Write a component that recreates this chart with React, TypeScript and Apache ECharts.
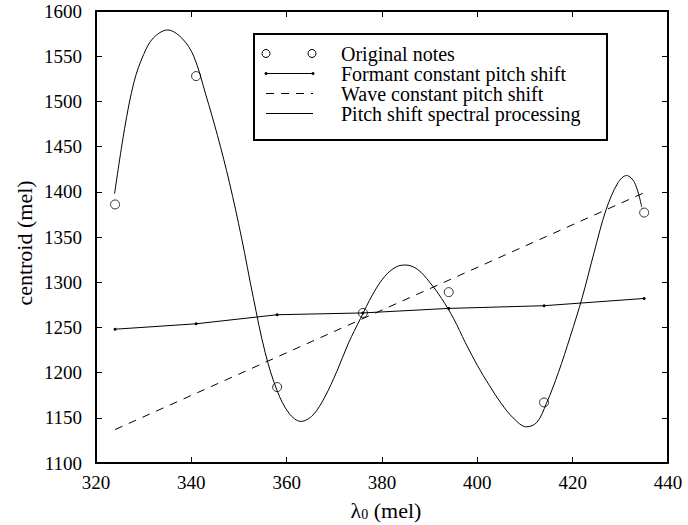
import React, { useEffect, useRef } from "react";
import * as echarts from "echarts";

const FONT = "Liberation Serif";

// Original notes (open circles)
const noteX = [324, 341, 358, 376, 394, 414, 435];
const noteY = [1386, 1528, 1184, 1266, 1289, 1167, 1377];

// Formant constant pitch shift
const formantY = [1248, 1254, 1264, 1266, 1271, 1274, 1282];

// Wave constant pitch shift (straight line)
const waveX = [324, 435];
const waveY = [1137, 1399];

// Pitch shift spectral processing (curve)
const specX = [
  323.9, 326, 328, 330, 332, 335, 338, 340.5, 343, 345.5, 348, 350.5, 353,
  355.5, 358, 360.5, 363, 365.5, 368, 370.5, 373, 375.5, 378, 380.5, 383, 385,
  387.5, 390, 392.5, 395, 397.5, 400, 402.5, 405, 407.5, 410.3, 412.5, 414.5,
  417, 419.5, 422, 424.5, 427, 429.5, 431.3, 433, 434.5,
];
const specY = [
  1398, 1470, 1522, 1552, 1570, 1579, 1570, 1550, 1508, 1462, 1410, 1350, 1283,
  1222, 1180, 1155, 1146, 1153, 1173, 1201, 1233, 1260, 1286, 1306, 1317, 1319,
  1314, 1300, 1282, 1260, 1233, 1208, 1186, 1166, 1150, 1140, 1145, 1166,
  1200, 1240, 1283, 1333, 1380, 1410, 1418, 1410, 1383,
];

const xTicks = { min: 320, max: 440, interval: 20 };
const yTicks = { min: 1100, max: 1600, interval: 50 };

const legendLabels = [
  "Original notes",
  "Formant constant pitch shift",
  "Wave constant pitch shift",
  "Pitch shift spectral processing",
];

export default function App() {
  const ref = useRef<HTMLDivElement>(null);
  useEffect(() => {
    document.body.style.margin = "0";
    if (!ref.current) return;
    const chart = echarts.init(ref.current, null, { renderer: "svg" });

    const axisLine = { show: true, onZero: false, lineStyle: { color: "#000", width: 2 } };
    const axisTick = { show: true, inside: true, length: 6, lineStyle: { color: "#000", width: 1 } };
    const label = {
      color: "#000",
      fontSize: 19,
      fontFamily: FONT,
      formatter: (v: number) => String(v),
    };

    const lx0 = 266, lx1 = 313, rows = [53.5, 73.5, 93.5, 113.5];
    const legendGraphics: any[] = [
      {
        type: "rect",
        z: 100,
        shape: { x: 254, y: 34, width: 353, height: 106 },
        style: { fill: "#fff", stroke: "#000", lineWidth: 2 },
      },
      { type: "circle", z: 101, shape: { cx: lx0, cy: rows[0], r: 4 }, style: { fill: "none", stroke: "#000", lineWidth: 1 } },
      { type: "circle", z: 101, shape: { cx: lx1 - 1, cy: rows[0], r: 4 }, style: { fill: "none", stroke: "#000", lineWidth: 1 } },
      { type: "line", z: 101, shape: { x1: lx0, y1: rows[1], x2: lx1, y2: rows[1] }, style: { stroke: "#000", lineWidth: 1 } },
      { type: "circle", z: 101, shape: { cx: lx0, cy: rows[1], r: 1.5 }, style: { fill: "#000" } },
      { type: "circle", z: 101, shape: { cx: lx1, cy: rows[1], r: 1.5 }, style: { fill: "#000" } },
      { type: "line", z: 101, shape: { x1: lx0, y1: rows[2], x2: lx1, y2: rows[2] }, style: { stroke: "#000", lineWidth: 1, lineDash: [8, 7] } },
      { type: "line", z: 101, shape: { x1: lx0, y1: rows[3], x2: lx1, y2: rows[3] }, style: { stroke: "#000", lineWidth: 1 } },
      ...legendLabels.map((t, i) => ({
        type: "text",
        z: 101,
        x: 341,
        y: rows[i],
        style: { text: t, fill: "#000", fontFamily: FONT, fontSize: 20, verticalAlign: "middle", align: "left" },
      })),
    ];

    chart.setOption({
      animation: false,
      backgroundColor: "#fff",
      grid: { left: 96, right: 20, top: 11, bottom: 62 },
      xAxis: [
        {
          type: "value", position: "bottom", ...xTicks,
          axisLine, axisTick, splitLine: { show: false },
          axisLabel: { ...label, margin: 10 },
        },
        {
          type: "value", position: "top", ...xTicks,
          axisLine, axisTick, splitLine: { show: false },
          axisLabel: { show: false },
        },
      ],
      yAxis: [
        {
          type: "value", position: "left", ...yTicks,
          axisLine, axisTick, splitLine: { show: false },
          axisLabel: { ...label, margin: 14 },
        },
        {
          type: "value", position: "right", ...yTicks,
          axisLine, axisTick, splitLine: { show: false },
          axisLabel: { show: false },
        },
      ],
      series: [
        {
          name: "Pitch shift spectral processing",
          type: "line",
          data: specX.map((x, i) => [x, specY[i]]),
          smooth: 0.35,
          showSymbol: false,
          lineStyle: { color: "#000", width: 1 },
        },
        {
          name: "Wave constant pitch shift",
          type: "line",
          data: waveX.map((x, i) => [x, waveY[i]]),
          showSymbol: false,
          lineStyle: { color: "#000", width: 1, type: [8, 7] },
        },
        {
          name: "Formant constant pitch shift",
          type: "line",
          data: noteX.map((x, i) => [x, formantY[i]]),
          symbol: "circle",
          symbolSize: 3,
          itemStyle: { color: "#000" },
          lineStyle: { color: "#000", width: 1 },
        },
        {
          name: "Original notes",
          type: "scatter",
          data: noteX.map((x, i) => [x, noteY[i]]),
          symbol: "circle",
          symbolSize: 9,
          itemStyle: { color: "rgba(0,0,0,0)", borderColor: "#000", borderWidth: 1 },
          z: 5,
        },
      ],
      graphic: [
        {
          type: "text",
          x: 24,
          y: 243,
          rotation: Math.PI / 2,
          style: { text: "centroid (mel)", fill: "#000", fontFamily: FONT, fontSize: 22, align: "center", verticalAlign: "middle" },
        },
        {
          type: "text",
          x: 386,
          y: 510,
          style: {
            text: "{a|λ}{s|0}{a| (mel)}",
            fill: "#000",
            align: "center",
            verticalAlign: "middle",
            rich: {
              a: { fontFamily: FONT, fontSize: 22, fill: "#000", color: "#000" },
              s: { fontFamily: FONT, fontSize: 14, fill: "#000", color: "#000", padding: [9, 0, 0, 0] },
            },
          },
        },
        ...legendGraphics,
      ],
    });
    return () => chart.dispose();
  }, []);
  return (
    <div
      ref={ref}
      style={{ position: "fixed", left: 0, top: 0, width: 688, height: 525, background: "#fff" }}
    />
  );
}
